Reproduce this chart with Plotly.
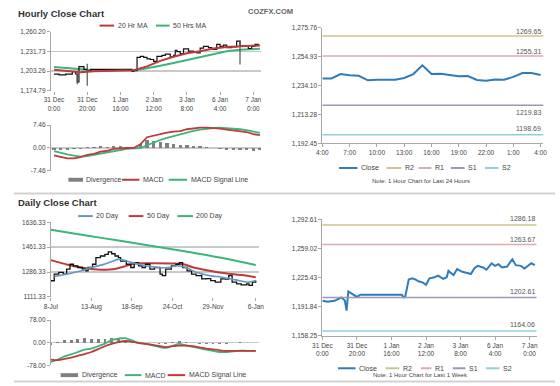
import plotly.graph_objects as go

# ---------------- DATA ----------------
# Hourly close (last week), hour index from 31 Dec 0:00 (weekend skipped)
close_hours = [0, 3, 7, 11, 13, 14, 15, 18, 20, 22, 34, 46, 47, 48, 50, 52, 54, 56, 58, 60,
               62, 65, 67, 70, 72, 73, 74, 76, 78, 81, 84, 86, 88, 90, 93, 95, 98, 100, 102, 104,
               107, 110, 112, 115, 117, 119, 121, 123]
close_vals = [1198.7, 1197.6, 1198.7, 1202.5, 1199.0, 1187.4, 1209.6, 1205.8, 1203.2, 1205.8,
              1205.8, 1205.8, 1202.8, 1204.0, 1223.2, 1224.7, 1223.2, 1220.9, 1220.0, 1217.2,
              1224.7, 1225.9, 1227.7, 1224.0, 1225.9, 1233.3, 1231.5, 1228.5, 1235.3, 1232.2,
              1230.8, 1229.6, 1236.4, 1239.0, 1237.2, 1234.5, 1242.0, 1239.0, 1240.9, 1237.2,
              1238.3, 1246.6, 1239.8, 1239.0, 1236.0, 1239.0, 1242.0, 1239.8]
spike_hours = [14, 20, 112]
spike_low = [1184.3, 1181.9, 1212.8]
spike_high = [1199.5, 1214.0, 1247.5]

ma_hours = [0, 8, 16, 24, 32, 40, 48, 52, 56, 60, 64, 72, 80, 88, 96, 104, 112, 120, 124]
ma20_hr = [1205, 1203, 1201.5, 1203, 1204, 1204.2, 1204.6, 1207, 1210, 1214, 1218, 1224, 1229,
           1232, 1236, 1238, 1239, 1240, 1240.5]
ma50_hr = [1209, 1207.5, 1205.5, 1204.3, 1204.2, 1204.2, 1204.3, 1205.5, 1207, 1209, 1211, 1215,
           1219, 1223, 1227.5, 1232, 1234.3, 1235.2, 1235.6]

macd_hours = [0, 4, 8, 12, 16, 20, 24, 28, 32, 36, 40, 44, 48, 52, 56, 60, 64, 68, 72, 76, 80,
              84, 88, 92, 96, 100, 104, 108, 112, 116, 120, 124]
macd_hr = [-2.4, -3.0, -3.4, -3.4, -3.0, -2.2, -1.9, -1.2, -0.9, -0.3, -0.1, 0.0, 0.0, 1.2, 3.5,
           4.0, 4.7, 5.0, 5.3, 5.5, 6.1, 6.4, 6.6, 6.6, 6.5, 6.3, 6.0, 5.7, 5.5, 5.2, 4.5, 4.2]
signal_hr = [-1.0, -1.6, -2.1, -2.5, -2.8, -2.6, -2.2, -1.8, -1.3, -0.9, -0.6, -0.3, -0.1, 0.0,
             0.9, 1.8, 2.6, 3.3, 3.9, 4.5, 5.1, 5.6, 6.0, 6.3, 6.5, 6.6, 6.5, 6.3, 6.1, 5.8, 5.4, 4.9]
div_hr = [-0.6, -0.6, -0.5, -0.3, -0.2, 0.4, 0.3, 0.6, 0.4, 0.6, 0.5, 0.3, 0.1, 1.2, 2.6, 2.2,
          2.1, 1.7, 1.4, 1.0, 1.0, 0.8, 0.6, 0.3, 0.0, -0.3, -0.5, -0.6, -0.6, -0.6, -0.9, -0.7]

hour_ticks = [0, 20, 40, 60, 80, 100, 120]
hour_labels = ["31 Dec<br>0:00", "31 Dec<br>20:00", "1 Jan<br>16:00", "2 Jan<br>12:00",
               "3 Jan<br>8:00", "6 Jan<br>4:00", "7 Jan<br>0:00"]

# Last 24 hours
day24_idx = list(range(25))
day24_close = [1239.2, 1239.2, 1242.3, 1241.4, 1241.1, 1237.8, 1238.3, 1238.5, 1238.3, 1239.5,
               1242.3, 1248.6, 1242.3, 1242.6, 1241.6, 1240.7, 1240.9, 1238.1, 1237.6, 1238.5,
               1238.3, 1240.3, 1243.0, 1243.0, 1241.6]
day24_ticks = [0, 3, 6, 9, 12, 15, 18, 21, 24]
day24_labels = ["4:00", "7:00", "10:00", "13:00", "16:00", "19:00", "22:00", "1:00", "4:00"]
levels24 = {"R2": 1269.65, "R1": 1255.31, "S1": 1219.83, "S2": 1198.69}
levels_wk = {"R2": 1286.18, "R1": 1263.67, "S1": 1202.61, "S2": 1164.06}

# Daily chart (day offsets from 8-Jul)
daily_days = [0, 3, 7, 11, 14, 17, 20, 24, 28, 31, 33, 37, 40, 44, 48, 51, 54, 57, 60, 62,
              67, 71, 74, 78, 81, 84, 88, 92, 97, 99, 102, 107, 111, 114, 117, 121, 125, 129,
              134, 138, 142, 146, 151, 155, 158, 161, 165, 169, 174, 176, 179, 182]
daily_close = [1225, 1272, 1284, 1272, 1307, 1341, 1330, 1318, 1307, 1295, 1318, 1341, 1388,
               1399, 1411, 1428, 1415, 1399, 1388, 1364, 1341, 1318, 1353, 1330, 1318, 1341,
               1307, 1318, 1272, 1261, 1307, 1330, 1341, 1353, 1318, 1295, 1272, 1261, 1238,
               1240, 1226, 1215, 1238, 1236, 1261, 1215, 1203, 1196, 1203, 1192, 1215, 1226]
ma20_days = [3, 15, 27, 35, 47, 55, 60, 72, 84, 95, 104, 112, 121, 129, 141, 152, 164, 175, 182]
ma20_d = [1255, 1272, 1295, 1316, 1340, 1362, 1375, 1353, 1330, 1318, 1318, 1330, 1314, 1284,
          1261, 1250, 1231, 1215, 1226]
ma50_days = [0, 15, 30, 45, 55, 65, 75, 90, 110, 118, 126, 141, 155, 169, 182]
ma50_d = [1370, 1338, 1315, 1303, 1305, 1325, 1346, 1348, 1346, 1341, 1320, 1295, 1277, 1265, 1250]
ma200_days = [0, 30, 60, 90, 120, 150, 182]
ma200_d = [1584, 1545, 1508, 1470, 1430, 1388, 1335]

dmacd_days = [0, 6, 12, 18, 24, 30, 36, 42, 48, 54, 60, 66, 72, 78, 84, 90, 96, 102, 108, 114,
              120, 126, 132, 138, 144, 150, 156, 162, 168, 174, 182]
macd_d = [-66, -58, -47, -40, -32, -24, -20, -12, -3, 9, 14, 16, 8, 0, -4, -9, -14, -18, -11, -4,
          -9, -14, -19, -24, -28, -32, -32, -30, -27, -28, -28]
signal_d = [-58, -60, -56, -51, -45, -39, -32, -22, -12, -4, 2, 6, 4, -1, -4, -7, -11, -15, -12,
            -10, -10, -12, -16, -20, -23, -26, -28, -28, -28, -28, -28]
div_d = [-8, 2, 9, 11, 13, 15, 13, 14, 14, 17, 12, 10, 4, 1, 0, -2, -3, -3, 1, 6, 1, -2, -3, -4,
         -5, -6, -4, -2, 1, 0, 0]
daily_ticks = [0, 36, 72, 108, 144, 182]
daily_labels = ["8-Jul", "13-Aug", "18-Sep", "24-Oct", "29-Nov", "6-Jan"]

# ---------------- STYLE ----------------
W, H = 560, 386
FONT = "Liberation Sans, Arial, sans-serif"
RED = "#c0393b"
GREEN = "#3bb57a"
BLUE20 = "#6396c4"
CLOSE = "#2f7cb8"
GRAY = "#808080"
LVL_COL = {"R2": "#cbc592", "R1": "#dcaab0", "S1": "#9d96b8", "S2": "#90d0da"}


def px(x):
    return x / W


def py(y):
    return 1 - y / H


def xd(a, b):
    return [a / W, b / W]


def yd(top, bottom):
    return [1 - bottom / H, 1 - top / H]


tick_font = dict(family=FONT, size=6.5, color="#444")

fig = go.Figure()

# --- Hourly price (top-left)
fig.add_trace(go.Scatter(x=ma_hours, y=ma50_hr, xaxis="x", yaxis="y", mode="lines",
                         line=dict(color=GREEN, width=2)))
fig.add_trace(go.Scatter(x=close_hours, y=close_vals, xaxis="x", yaxis="y", mode="lines",
                         line=dict(color="#111", width=1.2, shape="hv")))
sx, sy = [], []
for h, lo, hi in zip(spike_hours, spike_low, spike_high):
    sx += [h, h, None]
    sy += [lo, hi, None]
fig.add_trace(go.Scatter(x=sx, y=sy, xaxis="x", yaxis="y", mode="lines",
                         line=dict(color="#555", width=1.2)))
fig.add_trace(go.Scatter(x=ma_hours, y=ma20_hr, xaxis="x", yaxis="y", mode="lines",
                         line=dict(color=RED, width=2)))

# --- Hourly MACD
fig.add_trace(go.Bar(x=macd_hours, y=div_hr, xaxis="x2", yaxis="y2", width=2,
                     marker=dict(color=GRAY, line=dict(width=0))))
fig.add_trace(go.Scatter(x=macd_hours, y=signal_hr, xaxis="x2", yaxis="y2", mode="lines",
                         line=dict(color=GREEN, width=1.8)))
fig.add_trace(go.Scatter(x=macd_hours, y=macd_hr, xaxis="x2", yaxis="y2", mode="lines",
                         line=dict(color=RED, width=1.8)))

# --- Daily price
fig.add_trace(go.Scatter(x=ma200_days, y=ma200_d, xaxis="x3", yaxis="y3", mode="lines",
                         line=dict(color=GREEN, width=2, shape="spline")))
fig.add_trace(go.Scatter(x=ma50_days, y=ma50_d, xaxis="x3", yaxis="y3", mode="lines",
                         line=dict(color=RED, width=2, shape="spline")))
fig.add_trace(go.Scatter(x=daily_days, y=daily_close, xaxis="x3", yaxis="y3", mode="lines",
                         line=dict(color="#111", width=1.3, shape="hv")))
fig.add_trace(go.Scatter(x=ma20_days, y=ma20_d, xaxis="x3", yaxis="y3", mode="lines",
                         line=dict(color=BLUE20, width=1.6, shape="spline")))

# --- Daily MACD
fig.add_trace(go.Bar(x=dmacd_days, y=div_d, xaxis="x4", yaxis="y4", width=2.5,
                     marker=dict(color=GRAY, line=dict(width=0))))
fig.add_trace(go.Scatter(x=dmacd_days, y=macd_d, xaxis="x4", yaxis="y4", mode="lines",
                         line=dict(color=GREEN, width=1.8, shape="spline")))
fig.add_trace(go.Scatter(x=dmacd_days, y=signal_d, xaxis="x4", yaxis="y4", mode="lines",
                         line=dict(color=RED, width=1.8, shape="spline")))

# --- Right top (24h)
fig.add_trace(go.Scatter(x=day24_idx, y=day24_close, xaxis="x5", yaxis="y5", mode="lines",
                         line=dict(color=CLOSE, width=2)))
# --- Right bottom (week)
fig.add_trace(go.Scatter(x=close_hours, y=close_vals, xaxis="x6", yaxis="y6", mode="lines",
                         line=dict(color=CLOSE, width=2)))


def yax(dom, rng, tv, anchor, fmt=None, ttext=None, grid=True, line=True):
    d = dict(domain=dom, range=rng, tickvals=tv, anchor=anchor, showgrid=grid,
             gridcolor="#c9c9c9", gridwidth=1.3, showline=line, linecolor="#a8a8a8",
             linewidth=1, ticks="outside", ticklen=3, tickcolor="#a8a8a8",
             tickfont=tick_font, zeroline=False, fixedrange=True)
    if ttext is not None:
        d["ticktext"] = ttext
    if fmt is not None:
        d["tickformat"] = fmt
    return d


def xax(dom, rng, tv, tt, anchor, labels=True, line=False):
    return dict(domain=dom, range=rng, tickvals=tv, ticktext=tt, anchor=anchor,
                showticklabels=labels, showgrid=False, zeroline=False, showline=line,
                linecolor="#a8a8a8", linewidth=1, ticks="outside" if labels else "",
                ticklen=3, tickcolor="#a8a8a8", tickfont=tick_font, fixedrange=True)


shapes = []
annotations = []

# separators
for yy in (193, 384.5):
    shapes.append(dict(type="line", xref="paper", yref="paper", x0=px(4), x1=1,
                       y0=py(yy), y1=py(yy), line=dict(color="#d2d2d2", width=2)))

# titles
annotations.append(dict(text="<b>Hourly Close Chart</b>", xref="paper", yref="paper",
                        x=px(6), y=py(10), xanchor="left", yanchor="middle", showarrow=False,
                        font=dict(family=FONT, size=9.5, color="#333")))
annotations.append(dict(text="<b>Daily Close Chart</b>", xref="paper", yref="paper",
                        x=px(6), y=py(202), xanchor="left", yanchor="middle", showarrow=False,
                        font=dict(family=FONT, size=9.5, color="#333")))
annotations.append(dict(text="<b>COZFX.COM</b>", xref="paper", yref="paper",
                        x=px(268), y=py(8), xanchor="center", yanchor="middle", showarrow=False,
                        font=dict(family=FONT, size=7.5, color="#666")))


def legend_row(ypx, items):
    for x0, x1, kind, color, label in items:
        if kind == "line":
            shapes.append(dict(type="line", xref="paper", yref="paper", x0=px(x0), x1=px(x1),
                               y0=py(ypx), y1=py(ypx), line=dict(color=color, width=2)))
        else:
            shapes.append(dict(type="rect", xref="paper", yref="paper", x0=px(x0), x1=px(x1),
                               y0=py(ypx + 2), y1=py(ypx - 2), fillcolor=color,
                               line=dict(width=0)))
        annotations.append(dict(text=label, xref="paper", yref="paper", x=px(x1 + 1.5),
                                y=py(ypx), xanchor="left", yanchor="middle", showarrow=False,
                                font=dict(family=FONT, size=7, color="#444")))


legend_row(22, [(92, 107, "line", RED, "20 Hr MA"), (150, 164, "line", GREEN, "50 Hrs MA")])
legend_row(179, [(60, 75, "bar", GRAY, "Divergence"), (115, 133, "line", RED, "MACD"),
                 (163, 182, "line", GREEN, "MACD Signal Line")])
legend_row(216, [(70, 85, "line", BLUE20, "20 Day"), (122, 137, "line", RED, "50 Day"),
                 (172, 188, "line", GREEN, "200 Day")])
legend_row(378, [(52, 70, "bar", GRAY, "Divergence"), (118, 135, "line", GREEN, "MACD"),
                 (162, 180, "line", RED, "MACD Signal Line")])
legend_row(167, [(338, 357, "line", CLOSE, "Close"), (387, 402, "line", LVL_COL["R2"], "R2"),
                 (420, 433, "line", LVL_COL["R1"], "R1"), (453, 467, "line", LVL_COL["S1"], "S1"),
                 (488, 502, "line", LVL_COL["S2"], "S2")])
legend_row(371, [(337, 355, "line", CLOSE, "Close"), (386, 400, "line", LVL_COL["R2"], "R2"),
                 (422, 433, "line", LVL_COL["R1"], "R1"), (455, 468, "line", LVL_COL["S1"], "S1"),
                 (489, 503, "line", LVL_COL["S2"], "S2")])

for txt, yy in (("Note: 1 Hour Chart for Last 24 Hours", 180),
                ("Note: 1 Hour Chart for Last 1 Week", 377.5)):
    annotations.append(dict(text=txt, xref="paper", yref="paper", x=px(422), y=py(yy),
                            xanchor="center", yanchor="middle", showarrow=False,
                            font=dict(family=FONT, size=6, color="#444")))

# support / resistance lines
for xa, ya, levels, shifts in (("x5", "y5", levels24, {"R2": 5, "R1": 5, "S1": -7, "S2": 6}),
                               ("x6", "y6", levels_wk, {"R2": 6, "R1": 5, "S1": 6, "S2": 6})):
    for name, val in levels.items():
        shapes.append(dict(type="line", xref=xa + " domain", yref=ya, x0=0, x1=1, y0=val,
                           y1=val, line=dict(color=LVL_COL[name], width=1.5)))
        annotations.append(dict(text=f"{val:.2f}", xref=xa + " domain", yref=ya, x=1, y=val,
                                xanchor="right", yanchor="middle", yshift=shifts[name],
                                showarrow=False, font=dict(family=FONT, size=7, color="#555")))

fig.update_layout(
    width=W, height=H, autosize=False, margin=dict(l=0, r=0, t=0, b=0),
    paper_bgcolor="white", plot_bgcolor="white", showlegend=False, bargap=0,
    hovermode=False,
    font=dict(family=FONT, size=7, color="#444"),
    xaxis=xax(xd(42, 258), [-1.9, 124.7], hour_ticks, hour_labels, "y"),
    yaxis=yax(yd(28.3, 88.3), [1174.79, 1260.20], [1174.79, 1203.26, 1231.73, 1260.20], "x",
              fmt=",.2f"),
    xaxis2=xax(xd(42, 258), [-1.9, 124.7], hour_ticks, hour_labels, "y2", labels=False),
    yaxis2=yax(yd(123.3, 170), [-7.46, 7.46], [-7.46, 0, 7.46], "x2",
               ttext=["-7.46", "0.00", "7.46"]),
    xaxis3=xax(xd(42, 256), [0, 185], daily_ticks, daily_labels, "y3"),
    yaxis3=yax(yd(222.3, 298.3), [1111.33, 1636.33], [1111.33, 1286.33, 1461.33, 1636.33], "x3",
               fmt=".2f"),
    xaxis4=xax(xd(42, 256), [0, 185], daily_ticks, daily_labels, "y4", labels=False),
    yaxis4=yax(yd(322, 368), [-78, 78], [-78, 0, 78], "x4", ttext=["-78.00", "0.00", "78.00"]),
    xaxis5=xax(xd(321, 548), [0, 24.3], day24_ticks, day24_labels, "y5", line=True),
    yaxis5=yax(yd(24, 142), [1192.45, 1275.76], [1192.45, 1213.28, 1234.10, 1254.93, 1275.76],
               "x5", fmt=",.2f", grid=False),
    xaxis6=xax(xd(321, 541), [0, 124], hour_ticks, hour_labels, "y6", line=True),
    yaxis6=yax(yd(219.3, 338.1), [1158.25, 1292.61], [1158.25, 1191.84, 1225.43, 1259.02, 1292.61],
               "x6", fmt=",.2f", grid=False),
    shapes=shapes, annotations=annotations,
)

fig.write_html("out.html", config={"displayModeBar": False, "staticPlot": True},
               post_script="document.body.style.margin='0';document.body.style.overflow='hidden';")
